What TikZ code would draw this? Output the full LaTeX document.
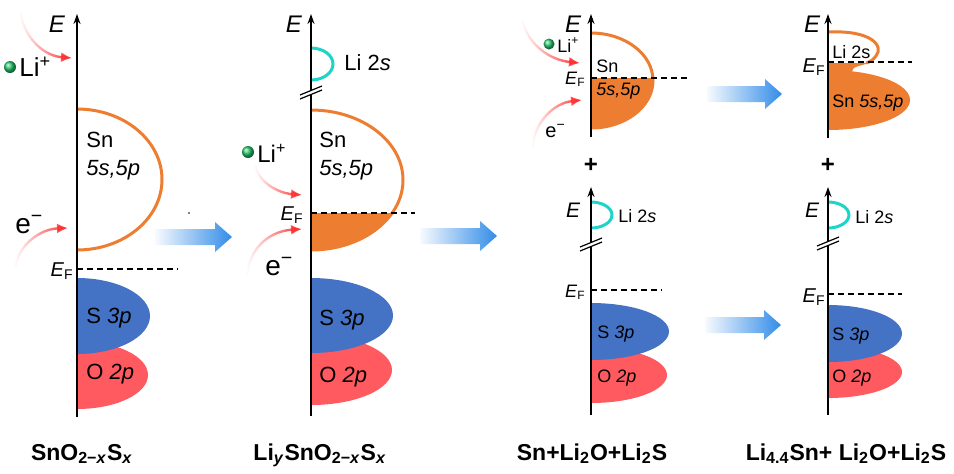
\documentclass[tikz,border=0pt]{standalone}
\usepackage{fontspec}
\setmainfont{Liberation Sans}
\usetikzlibrary{arrows.meta,fadings}
\definecolor{bandorange}{RGB}{237,125,49}
\definecolor{bandblue}{RGB}{68,114,196}
\definecolor{bandred}{RGB}{255,90,95}
\definecolor{licyan}{RGB}{30,212,200}
\definecolor{arrred}{RGB}{255,40,40}
\definecolor{arrblue}{RGB}{50,140,232}
\definecolor{ionball}{RGB}{40,200,110}
\tikzfading[name=fadein, left color=transparent!100, right color=transparent!0]
\begin{document}
\begin{tikzpicture}[x=0.5pt,y=-0.5pt,
  axis/.style={line width=1pt,-{Stealth[length=5pt,width=3.5pt]}},
  fermi/.style={line width=0.6pt,dash pattern=on 3pt off 2pt},
  snline/.style={draw=bandorange,line width=1.5pt},
  liline/.style={draw=licyan,line width=1.5pt},
  ion/.style={draw=arrred,line width=1.2pt,-{Latex[length=5.5pt,width=5pt]},path fading=fadein},
  lab/.style={inner sep=0,anchor=base west,font=\fontsize{11}{13}\selectfont},
  slab/.style={inner sep=0,anchor=base west,font=\fontsize{9}{11}\selectfont},
  elab/.style={inner sep=0,anchor=base,font=\fontsize{12}{14}\selectfont\itshape},
  eflab/.style={inner sep=0,anchor=base east,font=\fontsize{10}{12}\selectfont},
  cmpd/.style={inner sep=0,anchor=base,font=\fontsize{11.5}{14}\selectfont\bfseries}]
\useasboundingbox (0,0) rectangle (954,473);
\fill[bandred] (77,341) arc[start angle=-90,end angle=90,x radius=71,y radius=34] -- cycle;
\fill[bandblue] (77,278) arc[start angle=-90,end angle=90,x radius=73,y radius=38] -- cycle;
\draw[snline] (77,109) arc[start angle=-90,end angle=90,x radius=85,y radius=70.5];
\fill[bandred] (311,335) arc[start angle=-90,end angle=90,x radius=81,y radius=35] -- cycle;
\fill[bandblue] (311,278) arc[start angle=-90,end angle=90,x radius=82,y radius=37.5] -- cycle;
\begin{scope}
\clip (311,213) rectangle (420,260);
\fill[bandorange] (311,110) arc[start angle=-90,end angle=90,x radius=92,y radius=70] -- cycle;
\end{scope}
\draw[snline] (311,110) arc[start angle=-90,end angle=90,x radius=92,y radius=70];
\draw[liline] (311,48) arc[start angle=-90,end angle=90,x radius=22,y radius=16];
\begin{scope}
\clip (591,78) rectangle (660,135);
\fill[bandorange] (591,33) arc[start angle=-90,end angle=90,x radius=62,y radius=47.5] -- cycle;
\end{scope}
\draw[snline] (591,33) arc[start angle=-90,end angle=90,x radius=62,y radius=47.5];
\fill[bandred] (591,347) arc[start angle=-90,end angle=90,x radius=76,y radius=28] -- cycle;
\fill[bandblue] (591,303) arc[start angle=-90,end angle=90,x radius=78,y radius=28.5] -- cycle;
\draw[liline] (591,202) arc[start angle=-90,end angle=90,x radius=21,y radius=13];
\fill[bandorange] (828,63) -- (868,63) .. controls (862,66) and (852,66) .. (852,71.3)
  arc[start angle=-73,end angle=90,x radius=82,y radius=30] -- cycle;
\draw[snline] (828,32) .. controls (872,30) and (884,46) .. (876,56) .. controls (873,60) and (870,62) .. (866,63);
\fill[bandred] (828,346) arc[start angle=-90,end angle=90,x radius=74,y radius=26] -- cycle;
\fill[bandblue] (828,305) arc[start angle=-90,end angle=90,x radius=74,y radius=28.5] -- cycle;
\draw[liline] (828,202) arc[start angle=-90,end angle=90,x radius=21,y radius=13];
\foreach \ax/\ya/\yb in {77/417/14, 311/416/14, 591/137/14, 591/415/187, 828/138/14, 828/415/187}
  \draw[axis] (\ax,\ya) -- (\ax,\yb);
\foreach \bx/\by in {311/93, 591/245, 828/244} {
  \fill[white] (\bx-11,\by+2) -- (\bx+11,\by-7) -- (\bx+11,\by-3) -- (\bx-11,\by+6) -- cycle;
  \draw[line width=0.6pt] (\bx-11,\by+2) -- (\bx+11,\by-7) (\bx-11,\by+6) -- (\bx+11,\by-3);
}
\draw[fermi] (77,269) -- (178,269);
\draw[fermi] (311,213) -- (415,213);
\draw[fermi] (591,78) -- (687,78);
\draw[fermi] (591,290) -- (662,290);
\draw[fermi] (828,62) -- (912,62);
\draw[fermi] (828,294) -- (902,294);
\foreach \xa/\xb/\yc in {155/232/237, 420/497/236, 707/782/94, 705/781/325}
  \shade[left color=arrblue!4,right color=arrblue] (\xa,\yc-8) -- (\xb-17,\yc-8) -- (\xb-17,\yc-15)
    -- (\xb,\yc) -- (\xb-17,\yc+15) -- (\xb-17,\yc+8) -- (\xa,\yc+8) -- cycle;
\fill (189,213) circle (0.8);
\draw[ion] (20,12) .. controls (25,40) and (45,56) .. (72,58);
\draw[ion] (15,268) .. controls (18,245) and (40,229) .. (68,228);
\draw[ion] (255,165) .. controls (258,182) and (278,193) .. (302,195);
\draw[ion] (247,275) .. controls (250,245) and (272,231) .. (302,229);
\draw[ion] (522,20) .. controls (528,45) and (550,60) .. (580,63);
\draw[ion] (532,148) .. controls (535,120) and (555,103) .. (582,100);
\shade[ball color=ionball] (10,67) circle (6);
\shade[ball color=ionball] (248,152) circle (6);
\shade[ball color=ionball] (549,44) circle (5.5);
\node[elab] (E1) at (57,32) {E};
\node[lab,font=\fontsize{13}{15}\selectfont] (li1) at (19,76) {Li\textsuperscript{+}};
\node[lab] (sn1) at (86,147) {Sn};
\node[lab] (orb1) at (86,175) {\itshape 5s,5p};
\node[lab,font=\fontsize{14}{16}\selectfont] (e1) at (15,233) {e\textsuperscript{−}};
\node[eflab] (EF1) at (74,276) {\textit{E}\textsubscript{F}};
\node[lab] (s1) at (86,323) {S \textit{3p}};
\node[lab] (o1) at (86,379) {O \textit{2p}};
\node[elab] (E2) at (294,32) {E};
\node[lab] (li2) at (344,70) {Li 2\textit{s}};
\node[lab] (sn2) at (319,147) {Sn};
\node[lab] (orb2) at (319,175) {\itshape 5s,5p};
\node[lab,font=\fontsize{12}{14}\selectfont] (lip2) at (257,162) {Li\textsuperscript{+}};
\node[eflab] (EF2) at (304,220) {\textit{E}\textsubscript{F}};
\node[lab,font=\fontsize{14}{16}\selectfont] (e2) at (265,275) {e\textsuperscript{−}};
\node[lab] (s2) at (319,325) {S \textit{3p}};
\node[lab] (o2) at (319,382) {O \textit{2p}};
\node[elab] (E3) at (573,32) {E};
\node[slab] (lip3) at (557,52) {Li\textsuperscript{+}};
\node[slab] (sn3) at (596,72) {Sn};
\node[slab] (orb3) at (596,95) {\itshape 5s,5p};
\node[eflab,font=\fontsize{9}{11}\selectfont] (EF3) at (586,84) {\textit{E}\textsubscript{F}};
\node[slab,font=\fontsize{10}{12}\selectfont] (e3) at (545,137) {e\textsuperscript{−}};
\node[font=\fontsize{12}{14}\selectfont\bfseries] (plus3) at (591,165) {+};
\node[elab,font=\fontsize{10.5}{12}\selectfont\itshape] (E3b) at (573,217) {E};
\node[slab] (li3) at (618,222) {Li 2\textit{s}};
\node[eflab,font=\fontsize{9}{11}\selectfont] (EF3b) at (586,297) {\textit{E}\textsubscript{F}};
\node[slab] (s3) at (597,338) {S \textit{3p}};
\node[slab] (o3) at (597,382) {O \textit{2p}};
\node[elab] (E4) at (812,32) {E};
\node[slab] (li4) at (832,58) {Li 2s};
\node[slab] (sn4) at (832,107) {Sn \textit{5s,5p}};
\node[eflab] (EF4) at (826,72) {\textit{E}\textsubscript{F}};
\node[font=\fontsize{12}{14}\selectfont\bfseries] (plus4) at (828,165) {+};
\node[elab,font=\fontsize{10.5}{12}\selectfont\itshape] (E4b) at (812,217) {E};
\node[slab] (li4b) at (855,223) {Li 2\textit{s}};
\node[eflab] (EF4b) at (826,302) {\textit{E}\textsubscript{F}};
\node[slab] (s4) at (832,340) {S \textit{3p}};
\node[slab] (o4) at (832,382) {O \textit{2p}};
\node[cmpd] (c1) at (82,460) {SnO\textsubscript{2−\textit{x}}S\textsubscript{\textit{x}}};
\node[cmpd] (c2) at (320,460) {Li\textsubscript{\textit{y}}SnO\textsubscript{2−\textit{x}}S\textsubscript{\textit{x}}};
\node[cmpd] (c3) at (592,460) {Sn+Li\textsubscript{2}O+Li\textsubscript{2}S};
\node[cmpd] (c4) at (846,460) {Li\textsubscript{4.4}Sn+ Li\textsubscript{2}O+Li\textsubscript{2}S};
\end{tikzpicture}
\end{document}
